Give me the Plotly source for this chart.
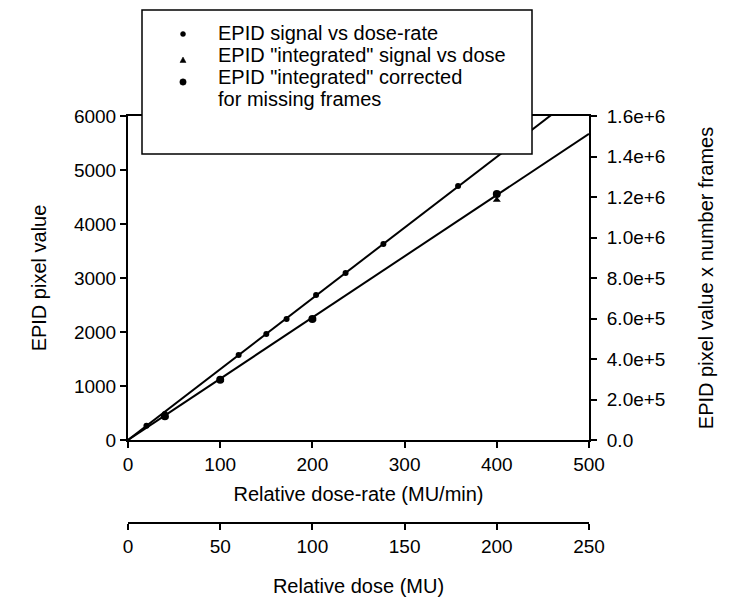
import numpy as np
import plotly.graph_objects as go

# ---- data ----
dose_rate = [20, 40, 120, 150, 172, 204, 236, 277, 358]          # MU/min
signal_rate = [263, 481, 1574, 1963, 2241, 2685, 3093, 3630, 4704]  # EPID pixel value

dose = [20, 50, 100, 200]                                          # MU
integrated = [1.16e5, 2.95e5, 5.96e5, 1.185e6]                     # pixel value x frames
corrected = [1.17e5, 2.97e5, 5.98e5, 1.215e6]

left_ticks = [0, 1000, 2000, 3000, 4000, 5000, 6000]
right_ticks = [0, 2e5, 4e5, 6e5, 8e5, 1.0e6, 1.2e6, 1.4e6, 1.6e6]
right_labels = ["0.0", "2.0e+5", "4.0e+5", "6.0e+5", "8.0e+5",
                "1.0e+6", "1.2e+6", "1.4e+6", "1.6e+6"]
rate_ticks = [0, 100, 200, 300, 400, 500]
dose_ticks = [0, 50, 100, 150, 200, 250]

legend_lines = ["EPID signal vs dose-rate",
                'EPID "integrated" signal vs dose',
                'EPID "integrated" corrected',
                "for missing frames"]

# least-squares lines through origin
xr = np.array(dose_rate, float); yr = np.array(signal_rate, float)
k1 = (xr * yr).sum() / (xr * xr).sum()
xd = np.array(dose, float); yd = np.array(corrected, float)
k2 = (xd * yd).sum() / (xd * xd).sum()

FONT = "Liberation Sans, Arial, sans-serif"
FT = 19   # tick font
FL = 20   # titles / legend

# pixel -> paper helpers (plot area: x 128..589, paper y 116..523)
def px(x):
    return (x - 128) / 461

def py(y):
    return (523 - y) / 407

fig = go.Figure()
fig.add_trace(go.Scatter(x=[0, 500], y=[0, k1 * 500], mode="lines",
                         line=dict(color="black", width=2), showlegend=False,
                         hoverinfo="skip"))
fig.add_trace(go.Scatter(x=[0, 250], y=[0, k2 * 250], mode="lines",
                         line=dict(color="black", width=2), showlegend=False,
                         xaxis="x2", yaxis="y2", hoverinfo="skip"))
fig.add_trace(go.Scatter(x=dose_rate, y=signal_rate, mode="markers",
                         name=legend_lines[0], showlegend=False,
                         marker=dict(symbol="circle", size=6, color="black")))
fig.add_trace(go.Scatter(x=dose, y=integrated, mode="markers",
                         name=legend_lines[1], showlegend=False,
                         marker=dict(symbol="triangle-up", size=7, color="black"),
                         xaxis="x2", yaxis="y2"))
fig.add_trace(go.Scatter(x=dose, y=corrected, mode="markers",
                         name=legend_lines[2] + " " + legend_lines[3],
                         showlegend=False,
                         marker=dict(symbol="circle", size=8, color="black"),
                         xaxis="x2", yaxis="y2"))

axis_common = dict(showline=True, linecolor="black", linewidth=2,
                   ticks="outside", ticklen=6, tickwidth=1.5, tickcolor="black",
                   showgrid=False, zeroline=False,
                   tickfont=dict(family=FONT, size=FT, color="black"))

# legend box + entries (drawn as layout items)
shapes = [dict(type="rect", xref="paper", yref="paper",
               x0=px(142), x1=px(532), y0=py(154), y1=py(10),
               fillcolor="white", line=dict(color="black", width=1.5),
               layer="above")]
sym_y = [34, 60, 82]
sym_r = [2.5, 0, 3.2]
for i, yy in enumerate(sym_y):
    if i == 1:
        shapes.append(dict(type="path", xref="paper", yref="paper",
                           xsizemode="pixel", ysizemode="pixel",
                           xanchor=px(183), yanchor=py(yy),
                           path="M-3,-2.5 L3,-2.5 L0,3 Z",
                           fillcolor="black", line=dict(color="black", width=0.5),
                           layer="above"))
    else:
        r = sym_r[i]
        shapes.append(dict(type="circle", xref="paper", yref="paper",
                           xsizemode="pixel", ysizemode="pixel",
                           xanchor=px(183), yanchor=py(yy),
                           x0=-r, x1=r, y0=-r, y1=r,
                           fillcolor="black", line=dict(color="black", width=0.5),
                           layer="above"))

text_y = [33, 55, 77, 99]
annotations = [dict(text=t, xref="paper", yref="paper", x=px(216), y=py(yy),
                    xanchor="left", yanchor="middle", showarrow=False,
                    font=dict(family=FONT, size=FL, color="black"))
               for t, yy in zip(legend_lines, text_y)]

fig.update_layout(
    width=734, height=600,
    margin=dict(l=120, r=153, t=108, b=85, pad=0),
    paper_bgcolor="white", plot_bgcolor="white",
    font=dict(family=FONT, size=FL, color="black"),
    showlegend=False,
    xaxis=dict(range=[0, 500], tickvals=rate_ticks, mirror=True, anchor="y",
               title=dict(text="Relative dose-rate (MU/min)", standoff=13,
                          font=dict(family=FONT, size=FL)),
               **axis_common),
    xaxis2=dict(range=[0, 250], tickvals=dose_ticks, overlaying="x",
                anchor="free", position=0, side="bottom",
                title=dict(text="Relative dose (MU)", standoff=22,
                           font=dict(family=FONT, size=FL)),
                **axis_common),
    yaxis=dict(range=[0, 6000], tickvals=left_ticks, domain=[py(440), 1],
               anchor="x",
               title=dict(text="EPID pixel value", standoff=22,
                          font=dict(family=FONT, size=FL)),
               **axis_common),
    yaxis2=dict(range=[0, 1.6e6], tickvals=right_ticks, ticktext=right_labels,
                overlaying="y", side="right", anchor="x", ticklabelstandoff=6,
                title=dict(text="EPID pixel value x number frames", standoff=35,
                           font=dict(family=FONT, size=FL)),
                **axis_common),
    shapes=shapes,
    annotations=annotations,
)

fig.write_html("out.html")
